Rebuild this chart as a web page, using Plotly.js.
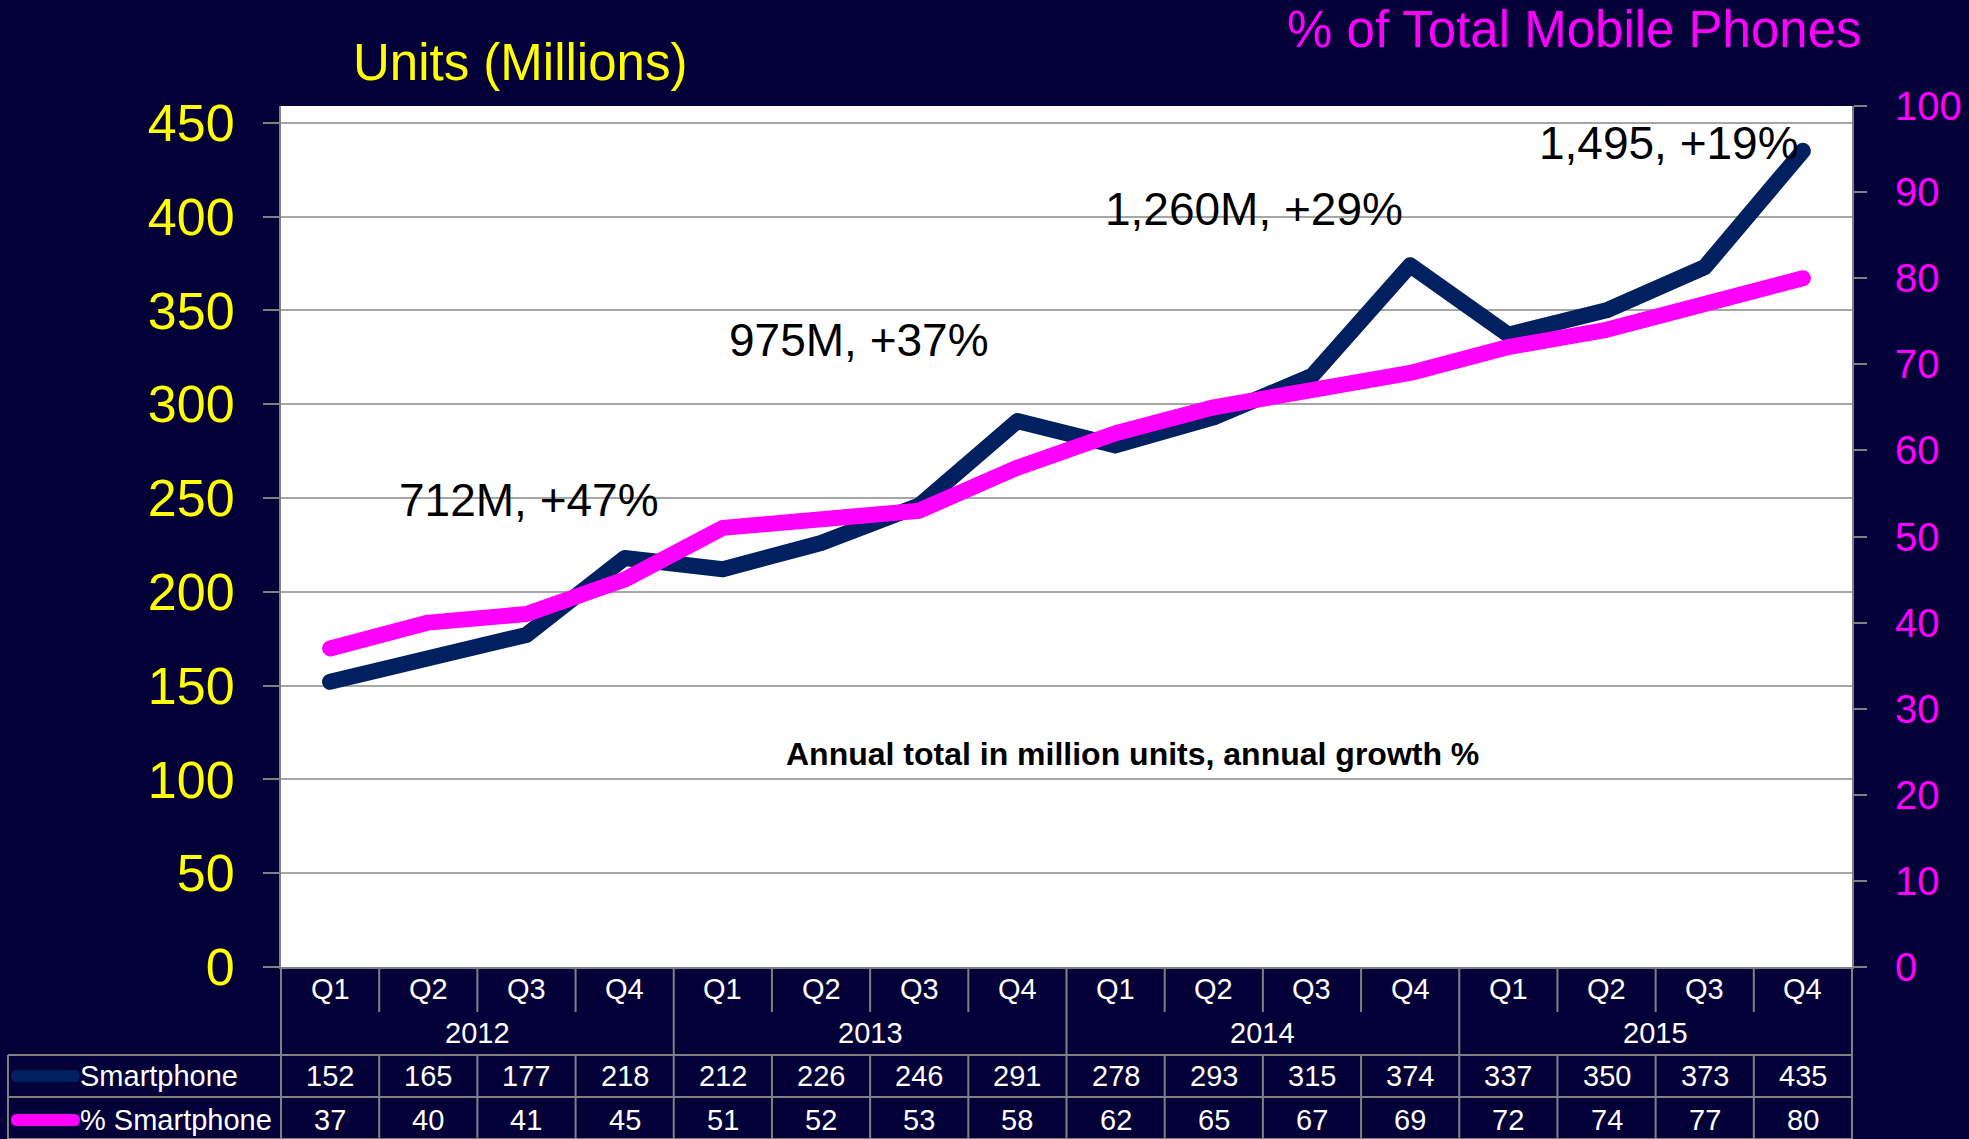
<!DOCTYPE html>
<html>
<head>
<meta charset="utf-8">
<script src="https://cdn.plot.ly/plotly-3.0.1.min.js"></script>
<style>
html,body{margin:0;padding:0;background:#040038;}
#chart{width:1969px;height:1139px;}
.scatterlayer .js-line{stroke-linecap:round;stroke-linejoin:round;}
</style>
</head>
<body>
<div id="chart"></div>
<script>
// ---- data ----
const years = ["2012", "2013", "2014", "2015"];
const quarters = ["Q1", "Q2", "Q3", "Q4"];
const smartphoneUnits = [152, 165, 177, 218, 212, 226, 246, 291, 278, 293, 315, 374, 337, 350, 373, 435];
const smartphonePct = [37, 40, 41, 45, 51, 52, 53, 58, 62, 65, 67, 69, 72, 74, 77, 80];
const seriesNames = ["Smartphone", "% Smartphone"];
const annualLabels = ["712M, +47%", "975M, +37%", "1,260M, +29%", "1,495, +19%"];
const annualLabelX = [2.03, 5.39, 9.41, 13.64];
const annualLabelY = [249, 334, 404, 439];

// ---- styling ----
const BG = "#040038";
const NAVY = "#002060";
const PINK = "#FF00FF";
const YELLOW = "#FFFF00";
const GRID = "#A6A6A6";
const AXIS = "#808080";
const FONT = "Liberation Sans, Arial, sans-serif";

const xcats = [];
const qLabels = [];
years.forEach(y => quarters.forEach(q => { xcats.push(y + " " + q); qLabels.push(q); }));
const n = xcats.length;

const traces = [
  {x: xcats, y: smartphoneUnits, name: seriesNames[0], type: "scatter", mode: "lines",
   line: {color: NAVY, width: 16}, yaxis: "y", hoverinfo: "x+y"},
  {x: xcats, y: smartphonePct, name: seriesNames[1], type: "scatter", mode: "lines",
   line: {color: PINK, width: 16}, yaxis: "y2", hoverinfo: "x+y"}
];

// table geometry in paper coords
const rowQ = -0.0256, rowYear = -0.0767, rowS = -0.1266, rowP = -0.1777;
const yQbottom = -0.0523, yHdrBottom = -0.1022, yMid = -0.151, yBottom = -0.1998;
const tableLeft = -0.1738;

const annotations = [];
const shapes = [];
const tf = {family: FONT, size: 29, color: "#FFFFFF"};

// quarter labels and values
for (let i = 0; i < n; i++) {
  annotations.push({x: xcats[i], xref: "x", y: rowQ, yref: "paper", text: qLabels[i], showarrow: false, font: tf, xanchor: "center", yanchor: "middle"});
  annotations.push({x: xcats[i], xref: "x", y: rowS, yref: "paper", text: String(smartphoneUnits[i]), showarrow: false, font: tf, xanchor: "center", yanchor: "middle"});
  annotations.push({x: xcats[i], xref: "x", y: rowP, yref: "paper", text: String(smartphonePct[i]), showarrow: false, font: tf, xanchor: "center", yanchor: "middle"});
}
// year labels
years.forEach((yr, k) => {
  annotations.push({x: k * 4 + 1.5, xref: "x", y: rowYear, yref: "paper", text: yr, showarrow: false, font: tf, xanchor: "center", yanchor: "middle"});
});
// series names in table
annotations.push({x: -0.1295, xref: "paper", y: rowS, yref: "paper", text: seriesNames[0], showarrow: false, font: tf, xanchor: "left", yanchor: "middle"});
annotations.push({x: -0.1295, xref: "paper", y: rowP, yref: "paper", text: seriesNames[1], showarrow: false, font: tf, xanchor: "left", yanchor: "middle"});

// legend keys
[[rowS, NAVY], [rowP, PINK]].forEach(([ry, col]) => {
  shapes.push({type: "path", xref: "paper", yref: "paper", xsizemode: "pixel", ysizemode: "pixel",
    xanchor: -0.1719, yanchor: ry,
    path: "M 6,-6 L 63,-6 Q 69,-6 69,0 Q 69,6 63,6 L 6,6 Q 0,6 0,0 Q 0,-6 6,-6 Z",
    fillcolor: col, line: {width: 0}});
});

// table lines
const ln = {color: AXIS, width: 2};
for (let k = 0; k <= n; k++) {
  const xp = k / n;
  if (k % 4 === 0) {
    shapes.push({type: "line", xref: "paper", yref: "paper", x0: xp, x1: xp, y0: 0, y1: yBottom, line: ln});
  } else {
    shapes.push({type: "line", xref: "paper", yref: "paper", x0: xp, x1: xp, y0: 0, y1: yQbottom, line: ln});
    shapes.push({type: "line", xref: "paper", yref: "paper", x0: xp, x1: xp, y0: yHdrBottom, y1: yBottom, line: ln});
  }
}
shapes.push({type: "line", xref: "paper", yref: "paper", x0: tableLeft, x1: tableLeft, y0: yHdrBottom, y1: yBottom, line: ln});
[yHdrBottom, yMid, yBottom].forEach(yy => {
  shapes.push({type: "line", xref: "paper", yref: "paper", x0: tableLeft, x1: 1, y0: yy, y1: yy, line: ln});
});

// annual annotations
annualLabels.forEach((t, i) => {
  annotations.push({x: annualLabelX[i], xref: "x", y: annualLabelY[i], yref: "y", text: t, showarrow: false,
    font: {family: FONT, size: 46, color: "#000000"}, xanchor: "center", yanchor: "middle"});
});
annotations.push({x: 0.5423, xref: "paper", y: 0.2474, yref: "paper", text: "<b>Annual total in million units, annual growth %</b>",
  showarrow: false, font: {family: FONT, size: 32, color: "#000000"}, xanchor: "center", yanchor: "middle"});

// axis titles
annotations.push({x: 0.1521, xref: "paper", y: 1.0511, yref: "paper", text: "Units (Millions)", showarrow: false,
  font: {family: FONT, size: 51, color: YELLOW}, xanchor: "center", yanchor: "middle"});
annotations.push({x: 0.8234, xref: "paper", y: 1.0894, yref: "paper", text: "% of Total Mobile Phones", showarrow: false,
  font: {family: FONT, size: 51, color: PINK}, xanchor: "center", yanchor: "middle"});

const layout = {
  width: 1969, height: 1139,
  margin: {l: 281, r: 117, t: 106, b: 172, pad: 0},
  paper_bgcolor: BG, plot_bgcolor: "#FFFFFF",
  showlegend: false,
  font: {family: FONT},
  xaxis: {type: "category", categoryorder: "array", categoryarray: xcats, range: [-0.5, n - 0.5],
    showticklabels: false, ticks: "", showgrid: false, zeroline: false,
    showline: true, linecolor: AXIS, linewidth: 2, fixedrange: true},
  yaxis: {range: [0, 458.9], tick0: 0, dtick: 50, showgrid: true, gridcolor: GRID, gridwidth: 2,
    zeroline: false, showline: true, linecolor: AXIS, linewidth: 2,
    ticks: "outside", ticklen: 16, tickwidth: 2, tickcolor: AXIS, ticklabelstandoff: 18,
    tickfont: {family: FONT, size: 52, color: YELLOW}},
  yaxis2: {range: [0, 100], tick0: 0, dtick: 10, overlaying: "y", side: "right", showgrid: false,
    zeroline: false, showline: true, linecolor: AXIS, linewidth: 2,
    ticks: "outside", ticklen: 13, tickwidth: 2, tickcolor: AXIS, ticklabelstandoff: 20,
    tickfont: {family: FONT, size: 40, color: PINK}},
  annotations: annotations,
  shapes: shapes
};

Plotly.newPlot("chart", traces, layout, {displayModeBar: false, staticPlot: true});
</script>
</body>
</html>
